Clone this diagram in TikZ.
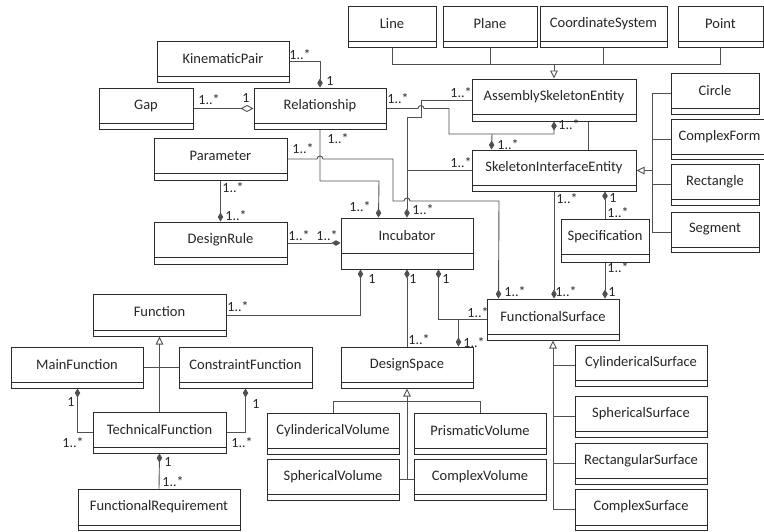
\documentclass[tikz,border=0pt]{standalone}
\usepackage{fontspec}
\setmainfont{Carlito}
\usetikzlibrary{arrows.meta,fit}
\definecolor{boxc}{HTML}{2B2B2B}
\definecolor{linec}{HTML}{505050}
\definecolor{txtc}{HTML}{262626}
\tikzset{
  boxnode/.style={draw=boxc, line width=1pt, inner sep=0pt, fill=white},
  sepline/.style={draw=boxc, line width=1pt},
  boxtext/.style={text=txtc, font=\fontsize{14.5}{16}\selectfont, inner sep=0pt},
  lab/.style={text=txtc, font=\fontsize{14}{15}\selectfont, inner sep=0pt},
  conn/.style={draw=linec, line width=0.9pt},
  comp/.style={conn, -{Diamond[length=9pt,width=5.5pt,fill=linec]}},
  agg/.style={conn, -{Diamond[open,length=13pt,width=7pt,fill=white]}},
  gen/.style={conn, -{Triangle[open,length=8pt,width=7.5pt,fill=white]}},
}
\newcommand\umlbox[7]{%
  \node[boxnode, fit={(#3,#4) (#5,#6)}] (#1) {};
  \draw[sepline] (#3,#7) -- (#5,#7);
  \node[boxtext] (#1-t) at ({(#3+#5)/2},{(#4+#7)/2}) {#2};
}
\begin{document}
\begin{tikzpicture}[x=1pt,y=-1pt]
\useasboundingbox (0,0) rectangle (764,531);
\clip (0,0) rectangle (764,531);
\fill[white] (0,0) rectangle (764,531);

% ---------- classes ----------
\umlbox{Line}{Line}{348}{6}{436}{47}{41}
\umlbox{Plane}{Plane}{443}{6}{537}{47}{41}
\umlbox{CoSys}{CoordinateSystem}{540}{6}{667}{47}{41}
\umlbox{Point}{Point}{678}{6}{763}{47}{41}
\umlbox{KP}{KinematicPair}{157}{41}{289}{82}{76}
\umlbox{Gap}{Gap}{99}{88}{193}{129}{123}
\umlbox{Rel}{Relationship}{254}{88}{386}{129}{123}
\umlbox{ASE}{AssemblySkeletonEntity}{472}{79}{636}{121}{114}
\umlbox{SIE}{SkeletonInterfaceEntity}{472}{150}{636}{191}{185}
\umlbox{Circle}{Circle}{671}{73}{759}{114}{108}
\umlbox{CForm}{ComplexForm}{671}{119}{768}{159}{154}
\umlbox{Rect}{Rectangle}{671}{164}{759}{205}{199}
\umlbox{Seg}{Segment}{671}{212}{759}{252}{247}
\umlbox{Param}{Parameter}{154}{138}{287}{180}{173}
\umlbox{DR}{DesignRule}{154}{222}{287}{264}{257}
\umlbox{Inc}{Incubator}{341}{218}{473}{269}{253}
\umlbox{Spec}{Specification}{561}{219}{649}{262}{254}
\umlbox{FS}{FunctionalSurface}{487}{299}{619}{340}{334}
\umlbox{Func}{Function}{93}{294}{226}{336}{330}
\umlbox{MF}{MainFunction}{11}{347}{143}{388}{382}
\umlbox{CF}{ConstraintFunction}{179}{347}{312}{388}{382}
\umlbox{TF}{TechnicalFunction}{93}{412}{226}{453}{447}
\umlbox{FR}{FunctionalRequirement}{78}{489}{240}{530}{525}
\umlbox{DS}{DesignSpace}{341}{347}{473}{388}{382}
\umlbox{CylV}{CylindericalVolume}{267}{413}{399}{454}{448}
\umlbox{PV}{PrismaticVolume}{414}{413}{546}{454}{448}
\umlbox{SV}{SphericalVolume}{267}{459}{399}{500}{494}
\umlbox{CV}{ComplexVolume}{414}{459}{546}{500}{494}
\umlbox{CylS}{CylindericalSurface}{575}{345}{707}{386}{380}
\umlbox{SphS}{SphericalSurface}{575}{396}{707}{437}{431}
\umlbox{RecS}{RectangularSurface}{575}{443}{707}{484}{478}
\umlbox{ComS}{ComplexSurface}{575}{489}{707}{530}{525}

% ---------- helper coordinates ----------
\coordinate (busT) at (552,64);
\coordinate (busR) at (652,0);

% ---------- generalizations ----------
\draw[conn] (Line.south) -- (Line.south |- busT) -- (Point.south |- busT) -- (Point.south);
\draw[conn] (Plane.south) -- (Plane.south |- busT);
\draw[conn] (CoSys.south) -- (CoSys.south |- busT);
\draw[gen] (ASE.north |- busT) -- (ASE.north);

\draw[conn] (Circle.west) -- (busR |- Circle.west) -- (busR |- Seg.west) -- (Seg.west);
\draw[conn] (CForm.west) -- (busR |- CForm.west);
\draw[conn] (Rect.west) -- (busR |- Rect.west);
\draw[gen] (busR |- SIE.east) -- (SIE.east);

\draw[gen] (TF.north) -- (Func.south);
\draw[conn] (MF.east) -- (CF.west);

\draw[gen] (DS.south |- SV.east) -- (DS.south);
\draw[conn] (SV.east) -- (CV.west);
\draw[conn] (CylV.north) -- ++(0,-11) -| (PV.north);

\draw[gen] (FS.south |- ComS.west) -- (FS.south);
\draw[conn] (FS.south |- CylS.west) -- (CylS.west);
\draw[conn] (FS.south |- SphS.west) -- (SphS.west);
\draw[conn] (FS.south |- RecS.west) -- (RecS.west);
\draw[conn] (FS.south |- ComS.west) -- (ComS.west);

% ---------- associations / compositions ----------
\draw[comp] (KP.east) -| (Rel.north);
\draw[agg] (Gap.east) -- (Rel.west);
\draw[comp] (Param.east) -- (317,159) arc[start angle=180,end angle=0,radius=3pt]
  -- (393,159) -- (393,201) -- (404,201) arc[start angle=180,end angle=0,radius=3pt]
  -- (499,201) -- ([xshift=12pt]FS.north west);
\draw[comp] (Rel.south) -- (320,181) -- (379,181) -- ([xshift=38pt]Inc.north west);
\draw[comp] (Param.south) -- (DR.north);
\draw[comp] (DR.east) -- (DR.east -| Inc.west);
\draw[comp] (Rel.east) -- (418,108.5) arc[start angle=180,end angle=0,radius=3pt]
  -- (449,108.5) -- (449,134) -- (ASE.south |- 0,134) -- (ASE.south);
\draw[comp] (492,134) -- ([xshift=20pt]SIE.north west);
\draw[comp] (ASE.west) -- (421,100) -- (421,117) -- (407,117) -- (Inc.north);
\draw[conn] (SIE.west) -- (Inc.north |- SIE.west);
\draw[comp] (Func.east) -| ([xshift=20pt]Inc.south west);
\draw[comp] (DS.north) -- (Inc.south);
\draw[comp] (FS.west) -| ([xshift=-35pt]Inc.south east);
\draw[comp] ([xshift=-15pt]DS.north east |- FS.west) -- ([xshift=-15pt]DS.north east);
\draw[comp] (SIE.south) -- (SIE.south |- FS.north);
\draw[comp] (Spec.north) -- (Spec.north |- SIE.south);
\draw[comp] (Spec.south) -- (Spec.south |- FS.north);
\draw[conn] ([xshift=-48pt]ASE.south east) -- ([xshift=-48pt]SIE.north east);
\draw[comp] (TF.west) -| ([xshift=67pt]MF.south west);
\draw[comp] (TF.east) -| ([xshift=67pt]CF.south west);
\draw[comp] (FR.north) -- (TF.south);

% ---------- multiplicities ----------
\node[lab] (l1) at (300,55) {1..*};
\node[lab] (l2) at (330,81) {1};
\node[lab] (l3) at (209,100) {1..*};
\node[lab] (l4) at (246,98) {1};
\node[lab] (l5) at (303,149) {1..*};
\node[lab] (l6) at (515,292) {1..*};
\node[lab] (l7) at (338,139) {1..*};
\node[lab] (l8) at (360,207) {1..*};
\node[lab] (l9) at (233,188) {1..*};
\node[lab] (l10) at (236,216) {1..*};
\node[lab] (l11) at (299,236) {1..*};
\node[lab] (l12) at (327,236) {1..*};
\node[lab] (l13) at (398,99) {1..*};
\node[lab] (l14) at (569,125) {1..*};
\node[lab] (l15) at (508,145) {1..*};
\node[lab] (l16) at (461,93) {1..*};
\node[lab] (l17) at (461,163) {1..*};
\node[lab] (l18) at (423,210) {1..*};
\node[lab] (l19) at (372,279) {1};
\node[lab] (l20) at (238,307) {1..*};
\node[lab] (l21) at (413,279) {1};
\node[lab] (l22) at (419,340) {1..*};
\node[lab] (l23) at (446,279) {1};
\node[lab] (l24) at (478,313) {1..*};
\node[lab] (l25) at (474,343) {1..*};
\node[lab] (l26) at (567,199) {1..*};
\node[lab] (l27) at (566,292) {1..*};
\node[lab] (l28) at (613,198) {1};
\node[lab] (l29) at (618,213) {1..*};
\node[lab] (l30) at (618,268) {1..*};
\node[lab] (l31) at (612,292) {1};
\node[lab] (l32) at (71,402) {1};
\node[lab] (l33) at (73,443) {1..*};
\node[lab] (l34) at (256,404) {1};
\node[lab] (l35) at (242,443) {1..*};
\node[lab] (l36) at (168,462) {1};
\node[lab] (l37) at (173,482) {1..*};
\end{tikzpicture}
\end{document}
